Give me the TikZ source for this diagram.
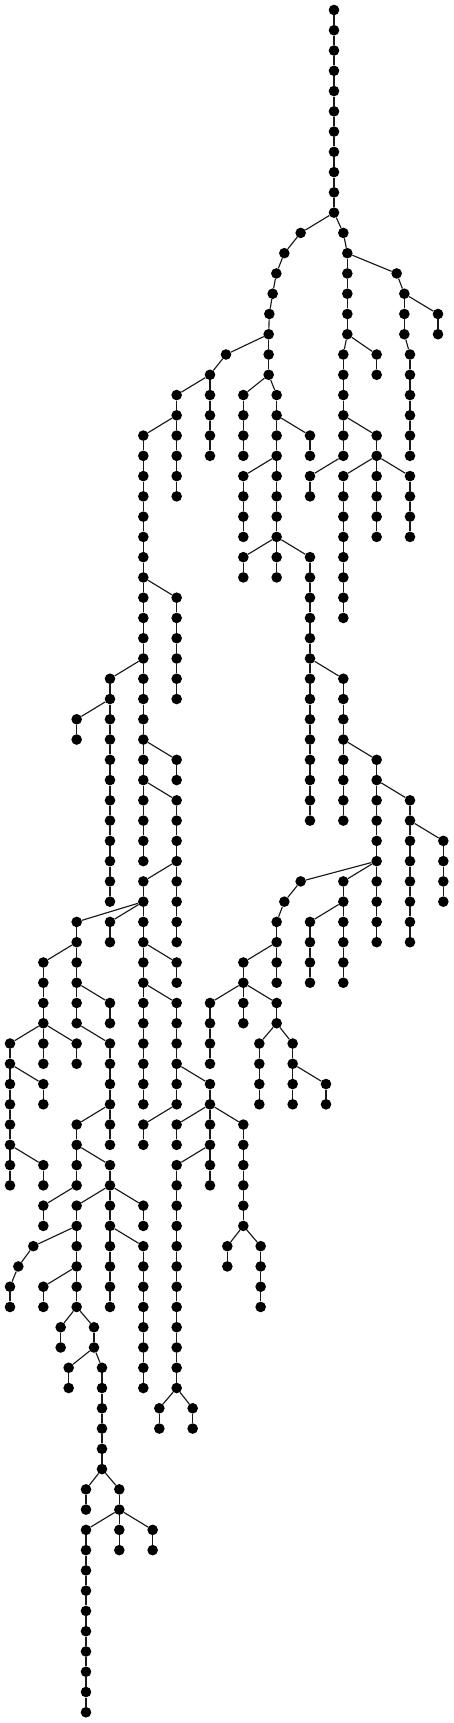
\documentclass[tikz,border=0pt]{standalone}
\tikzset{
  v/.style={circle,fill=black,draw=none,inner sep=0pt,minimum size=10.6pt},
  lnk/.style={draw=black!90,line width=1.15pt}
}
\newcommand\Vch[3]{%
  \foreach \rr in {#2,...,#3}{\node[v] (n#1-\rr) at (#1,\rr) {};}%
  \foreach \rr in {#2,...,#3}{\ifnum\rr>#2\relax\pgfmathtruncatemacro\pr{\rr-1}\draw[lnk] (n#1-\pr) -- (n#1-\rr);\fi}%
}
\newcommand\Edg[4]{\draw[lnk] (n#1-#2) -- (n#3-#4);}
\begin{document}
\begin{tikzpicture}[x=0.333333pt,y=-20.265pt]
\useasboundingbox (0,-0.4935) rectangle (1362,84.53);
% root
\Vch{1002}{0}{10}
\Vch{902}{11}{11}\Vch{853}{12}{12}\Vch{829}{13}{13}\Vch{818}{14}{14}\Vch{808}{15}{15}\Vch{806}{16}{18}
\Edg{1002}{10}{902}{11}\Edg{902}{11}{853}{12}\Edg{853}{12}{829}{13}\Edg{829}{13}{818}{14}\Edg{818}{14}{808}{15}\Edg{808}{15}{806}{16}
\Vch{678}{17}{17}\Edg{806}{16}{678}{17}
\Vch{630}{18}{18}\Edg{678}{17}{630}{18}
\Vch{530}{19}{20}\Edg{630}{18}{530}{19}
\Vch{630}{19}{22}\Edg{630}{18}{630}{19}
\Vch{430}{21}{28}\Edg{530}{20}{430}{21}
\Vch{530}{21}{24}\Edg{530}{20}{530}{21}
\Vch{530}{29}{34}\Edg{430}{28}{530}{29}
\Vch{430}{29}{32}\Edg{430}{28}{430}{29}
\Vch{330}{33}{34}\Edg{430}{32}{330}{33}
\Vch{430}{33}{36}\Edg{430}{32}{430}{33}
\Vch{230}{35}{36}\Edg{330}{34}{230}{35}
\Vch{330}{35}{44}\Edg{330}{34}{330}{35}
\Vch{530}{37}{38}\Edg{430}{36}{530}{37}
\Vch{430}{37}{38}\Edg{430}{36}{430}{37}
\Vch{430}{39}{42}\Edg{430}{38}{430}{39}
\Vch{530}{39}{42}\Edg{430}{38}{530}{39}
\Vch{430}{43}{44}\Edg{530}{42}{430}{43}
\Vch{530}{43}{46}\Edg{530}{42}{530}{43}
\Vch{230}{45}{46}\Edg{430}{44}{230}{45}
\Vch{330}{45}{46}\Edg{430}{44}{330}{45}
\Vch{430}{45}{46}\Edg{430}{44}{430}{45}
\Vch{130}{47}{50}\Edg{230}{46}{130}{47}
\Vch{230}{47}{48}\Edg{230}{46}{230}{47}
\Vch{30}{51}{52}\Edg{130}{50}{30}{51}
\Vch{130}{51}{52}\Edg{130}{50}{130}{51}
\Vch{230}{51}{52}\Edg{130}{50}{230}{51}
\Vch{30}{53}{56}\Edg{30}{52}{30}{53}
\Vch{130}{53}{54}\Edg{30}{52}{130}{53}
\Vch{30}{57}{58}\Edg{30}{56}{30}{57}
\Vch{130}{57}{58}\Edg{30}{56}{130}{57}
\Vch{230}{49}{50}\Edg{230}{48}{230}{49}
\Vch{330}{49}{50}\Edg{230}{48}{330}{49}
\Vch{330}{51}{54}\Edg{230}{50}{330}{51}
\Vch{230}{55}{56}\Edg{330}{54}{230}{55}
\Vch{330}{55}{56}\Edg{330}{54}{330}{55}
\Vch{230}{57}{58}\Edg{230}{56}{230}{57}
\Vch{330}{57}{58}\Edg{230}{56}{330}{57}
\Vch{130}{59}{60}\Edg{230}{58}{130}{59}
\Vch{230}{59}{60}\Edg{330}{58}{230}{59}
\Vch{330}{59}{60}\Edg{330}{58}{330}{59}
\Vch{430}{59}{60}\Edg{330}{58}{430}{59}
\Vch{100}{61}{61}\Edg{230}{60}{100}{61}
\Vch{55}{62}{62}\Edg{100}{61}{55}{62}
\Vch{30}{63}{64}\Edg{55}{62}{30}{63}
\Vch{230}{61}{62}\Edg{230}{60}{230}{61}
\Vch{130}{63}{64}\Edg{230}{62}{130}{63}
\Vch{230}{63}{64}\Edg{230}{62}{230}{63}
\Vch{182}{65}{66}\Edg{230}{64}{182}{65}
\Vch{282}{65}{66}\Edg{230}{64}{282}{65}
\Vch{206}{67}{68}\Edg{282}{66}{206}{67}
\Vch{306}{67}{72}\Edg{282}{66}{306}{67}
\Vch{258}{73}{74}\Edg{306}{72}{258}{73}
\Vch{358}{73}{74}\Edg{306}{72}{358}{73}
\Vch{258}{75}{84}\Edg{358}{74}{258}{75}
\Vch{358}{75}{76}\Edg{358}{74}{358}{75}
\Vch{458}{75}{76}\Edg{358}{74}{458}{75}
\Vch{330}{61}{64}\Edg{330}{60}{330}{61}
\Vch{430}{61}{68}\Edg{330}{60}{430}{61}
\Vch{430}{47}{48}\Edg{430}{46}{430}{47}
\Vch{530}{47}{48}\Edg{430}{46}{530}{47}
\Vch{430}{49}{54}\Edg{430}{48}{430}{49}
\Vch{530}{49}{52}\Edg{430}{48}{530}{49}
\Vch{530}{53}{54}\Edg{530}{52}{530}{53}
\Vch{630}{53}{54}\Edg{530}{52}{630}{53}
\Vch{430}{55}{56}\Edg{530}{54}{430}{55}
\Vch{530}{55}{56}\Edg{630}{54}{530}{55}
\Vch{630}{55}{56}\Edg{630}{54}{630}{55}
\Vch{730}{55}{60}\Edg{630}{54}{730}{55}
\Vch{530}{57}{68}\Edg{630}{56}{530}{57}
\Vch{630}{57}{58}\Edg{630}{56}{630}{57}
\Vch{478}{69}{70}\Edg{530}{68}{478}{69}
\Vch{578}{69}{70}\Edg{530}{68}{578}{69}
\Vch{682}{61}{62}\Edg{730}{60}{682}{61}
\Vch{782}{61}{64}\Edg{730}{60}{782}{61}
% middle
\Vch{730}{19}{22}\Edg{806}{18}{730}{19}
\Vch{830}{19}{20}\Edg{806}{18}{830}{19}
\Vch{830}{21}{22}\Edg{830}{20}{830}{21}
\Vch{930}{21}{22}\Edg{830}{20}{930}{21}
\Vch{730}{23}{26}\Edg{830}{22}{730}{23}
\Vch{830}{23}{26}\Edg{830}{22}{830}{23}
\Vch{730}{27}{28}\Edg{830}{26}{730}{27}
\Vch{830}{27}{28}\Edg{830}{26}{830}{27}
\Vch{930}{27}{32}\Edg{830}{26}{930}{27}
\Vch{930}{33}{40}\Edg{930}{32}{930}{33}
\Vch{1030}{33}{36}\Edg{930}{32}{1030}{33}
\Vch{1030}{37}{40}\Edg{1030}{36}{1030}{37}
\Vch{1130}{37}{38}\Edg{1030}{36}{1130}{37}
\Vch{1130}{39}{42}\Edg{1130}{38}{1130}{39}
\Vch{1230}{39}{40}\Edg{1130}{38}{1230}{39}
\Vch{1230}{41}{46}\Edg{1230}{40}{1230}{41}
\Vch{1330}{41}{44}\Edg{1230}{40}{1330}{41}
\Vch{902}{43}{43}\Edg{1130}{42}{902}{43}
\Vch{1030}{43}{44}\Edg{1130}{42}{1030}{43}
\Vch{1130}{43}{46}\Edg{1130}{42}{1130}{43}
\Vch{853}{44}{44}\Edg{902}{43}{853}{44}
\Vch{830}{45}{46}\Edg{853}{44}{830}{45}
\Vch{730}{47}{48}\Edg{830}{46}{730}{47}
\Vch{830}{47}{48}\Edg{830}{46}{830}{47}
\Vch{630}{49}{52}\Edg{730}{48}{630}{49}
\Vch{730}{49}{50}\Edg{730}{48}{730}{49}
\Vch{830}{49}{50}\Edg{730}{48}{830}{49}
\Vch{778}{51}{54}\Edg{830}{50}{778}{51}
\Vch{878}{51}{52}\Edg{830}{50}{878}{51}
\Vch{878}{53}{54}\Edg{878}{52}{878}{53}
\Vch{978}{53}{54}\Edg{878}{52}{978}{53}
\Vch{930}{45}{48}\Edg{1030}{44}{930}{45}
\Vch{1030}{45}{48}\Edg{1030}{44}{1030}{45}
% right
\Vch{1030}{11}{11}\Edg{1002}{10}{1030}{11}
\Vch{1042}{12}{16}\Edg{1030}{11}{1042}{12}
\Vch{1190}{13}{13}\Edg{1042}{12}{1190}{13}
\Vch{1213}{14}{16}\Edg{1190}{13}{1213}{14}
\Vch{1314}{15}{16}\Edg{1213}{14}{1314}{15}
\Vch{1230}{17}{22}\Edg{1213}{16}{1230}{17}
\Vch{1030}{17}{22}\Edg{1042}{16}{1030}{17}
\Vch{1130}{17}{18}\Edg{1042}{16}{1130}{17}
\Vch{1130}{21}{22}\Edg{1030}{20}{1130}{21}
\Vch{930}{23}{24}\Edg{1030}{22}{930}{23}
\Vch{1030}{23}{30}\Edg{1130}{22}{1030}{23}
\Vch{1130}{23}{26}\Edg{1130}{22}{1130}{23}
\Vch{1230}{23}{26}\Edg{1130}{22}{1230}{23}
\end{tikzpicture}
\end{document}
